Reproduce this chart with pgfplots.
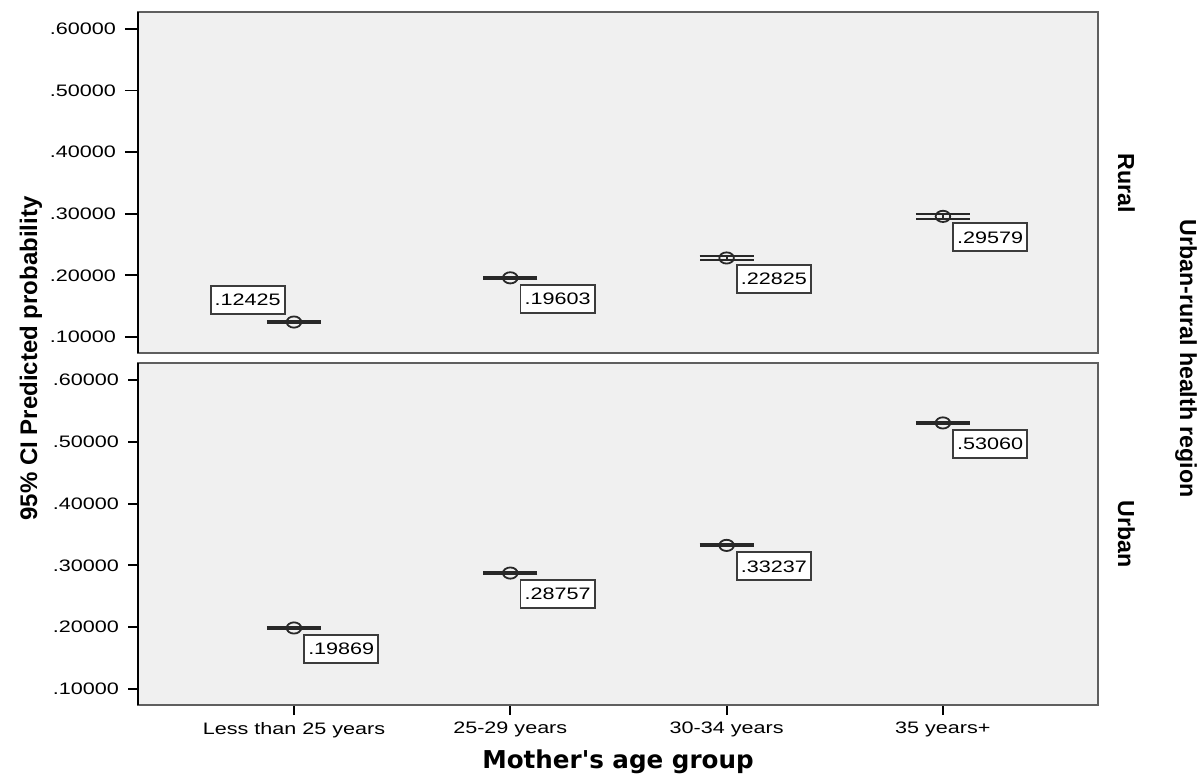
\documentclass[border=0pt]{standalone}
\usepackage{pgfplots}
\pgfplotsset{compat=1.18}
\usepackage{fontspec}
\setmainfont{Liberation Sans}
\newfontfamily\dejavu{DejaVu Sans}
\definecolor{panelbg}{RGB}{240,240,240}
\definecolor{framec}{RGB}{95,95,95}
\definecolor{boxc}{RGB}{60,60,60}
\definecolor{barc}{RGB}{40,40,40}
\newcommand\tickfont{\fontsize{8.3pt}{9pt}\selectfont}
\pgfplotsset{
 panel/.style={
  scale only axis, width=480pt, anchor=south west,
  xmin=-0.721, xmax=3.717, ymin=0.074, ymax=0.6276,
  axis background/.style={fill=panelbg},
  axis line style={framec, line width=0.9pt},
  ytick={0.1,0.2,0.3,0.4,0.5,0.6},
  yticklabels={.10000,.20000,.30000,.40000,.50000,.60000},
  ytick pos=left, xtick pos=bottom, tick align=outside,
  major tick length=6.5pt,
  major tick style={black, line width=0.9pt},
  yticklabel style={font=\tickfont, xscale=1.3},
  xticklabel style={font=\tickfont, xscale=1.3},
  clip=false,
 },
 ci/.style={only marks, mark=o, mark size=2.8pt,
  mark options={draw=barc, line width=0.9pt, xscale=1.3, fill=none},
  error bars/y dir=both, error bars/y explicit, error bars/error mark=|,
  error bars/error bar style={draw=barc, line width=1pt},
  error bars/error mark options={draw=barc, line width=1.05pt, mark size=13.5pt}},
 lab/.style={point meta=explicit symbolic, nodes near coords,
  every node near coord/.append style={#1, font=\tickfont, xscale=1.3, text=black, fill=white,
   draw=boxc, line width=0.95pt, minimum width=28.5pt, minimum height=14pt, inner sep=0pt}},
}
\begin{document}
\begin{tikzpicture}
\useasboundingbox (0,0) rectangle (599.5pt,388pt);
% top panel: Rural
\begin{axis}[panel, at={(69pt,211.5pt)}, height=170.5pt, xtick=\empty]
\addplot[ci, lab={anchor=south east, xshift=-4pt, yshift=3.5pt}] table[x=x,y=y,y error=e,meta=l] {
x y e l
0 0.12425 0.0015 .12425
};
\addplot[ci, lab={anchor=north west, xshift=4.5pt, yshift=-3pt}] table[x=x,y=y,y error=e,meta=l] {
x y e l
1 0.19603 0.0016 .19603
2 0.22825 0.0038 .22825
3 0.29579 0.0040 .29579
};
\draw[black, line width=0.9pt] (rel axis cs:0,0) -- (rel axis cs:0,1);
\end{axis}
% bottom panel: Urban
\begin{axis}[panel, at={(69pt,35.5pt)}, height=171pt,
  xtick={0,1,2,3}, major tick length=5pt,
  xticklabels={Less than 25 years,25-29 years,30-34 years,35 years+}]
\addplot[ci, lab={anchor=north west, xshift=4.5pt, yshift=-3pt}] table[x=x,y=y,y error=e,meta=l] {
x y e l
0 0.19869 0.0020 .19869
1 0.28757 0.0016 .28757
2 0.33237 0.0016 .33237
3 0.53060 0.0018 .53060
};
\draw[black, line width=0.9pt] (rel axis cs:0,0) -- (rel axis cs:0,1);
\end{axis}
% titles
\node[rotate=90, anchor=base, font=\bfseries\fontsize{12pt}{14pt}\selectfont] at (18.5pt,208.75pt) {95\% CI Predicted probability};
\node[anchor=base, font=\dejavu\bfseries\fontsize{12.3pt}{14pt}\selectfont] at (309pt,3.5pt) {Mother's age group};
\node[rotate=-90, anchor=base, font=\bfseries\fontsize{11.6pt}{14pt}\selectfont] at (559pt,296.5pt) {Rural};
\node[rotate=-90, anchor=base, font=\bfseries\fontsize{11.6pt}{14pt}\selectfont] at (559pt,121pt) {Urban};
\node[rotate=-90, anchor=base, font=\bfseries\fontsize{11.6pt}{14pt}\selectfont] at (590pt,208.75pt) {Urban-rural health region};
\end{tikzpicture}
\end{document}
